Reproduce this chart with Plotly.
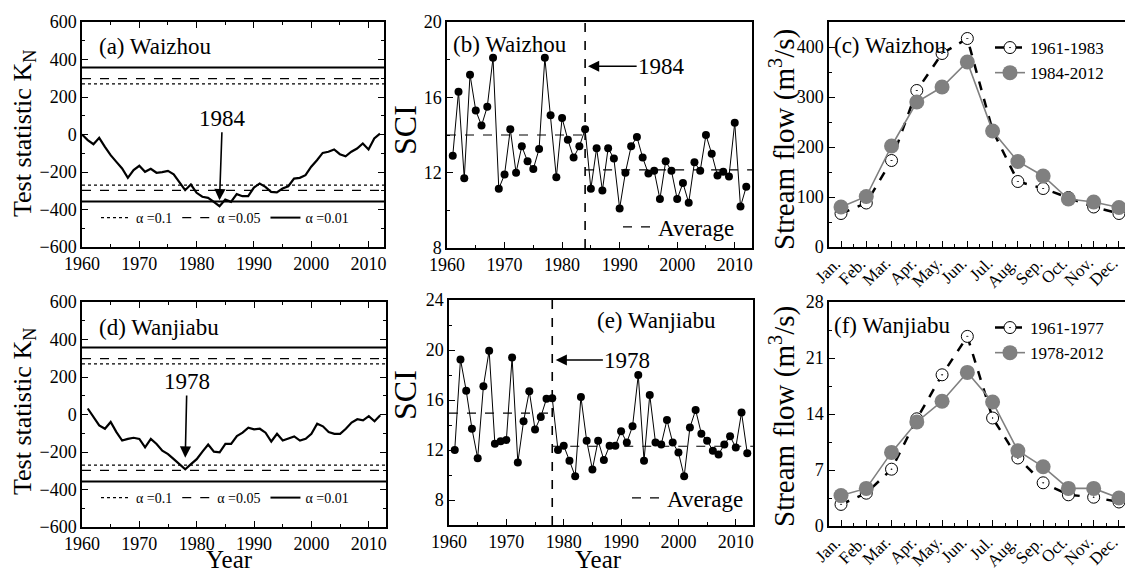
import plotly.graph_objects as go

# ---------------- data ----------------
years_a = list(range(1960, 2013))
kn_waizhou = [0, -30, -52, -18, -66, -110, -146, -181, -231, -190,
              -167, -199, -183, -204, -201, -194, -212, -252, -297, -267,
              -311, -332, -338, -359, -382, -347, -359, -318, -329, -329,
              -283, -261, -279, -306, -309, -288, -276, -235, -231, -217,
              -172, -137, -98, -92, -80, -105, -116, -92, -75, -48,
              -80, -21, 5]

years_d = list(range(1961, 2013))
kn_wanjiabu = [32, -13, -58, -76, -40, -94, -139, -130, -124, -130,
               -175, -130, -157, -193, -211, -238, -265, -292, -265, -238,
               -198, -160, -198, -202, -157, -157, -115, -97, -70, -79,
               -76, -97, -144, -103, -139, -130, -117, -139, -130, -103,
               -49, -63, -94, -103, -103, -76, -43, -25, -31, -9,
               -36, -4]

thresh_names = ["α =0.1", "α =0.05", "α =0.01"]
thresh_vals = [270, 298, 357]
thresh_dash = ["dot", "dash", "solid"]

years_sci = list(range(1961, 2013))
sci_waizhou = [12.9, 16.3, 11.7, 17.2, 15.3, 14.5, 15.5, 18.1, 11.15, 11.9,
               14.3, 12.0, 13.4, 12.6, 12.2, 13.25, 18.1, 15.05, 11.75, 14.9,
               13.75, 12.8, 13.4, 14.3, 11.15, 13.3, 11.05, 13.3, 12.75, 10.1,
               12.0, 13.4, 13.9, 12.8, 11.95, 12.1, 10.6, 12.6, 12.1, 10.6,
               11.45, 10.4, 12.55, 12.1, 14.0, 13.0, 11.85, 12.05, 11.8, 14.65,
               10.2, 11.25]
sci_wanjiabu = [12.0, 19.25, 16.75, 13.7, 11.35, 17.1, 19.95, 12.5, 12.7, 12.8,
                19.4, 11.0, 14.3, 16.7, 13.65, 14.65, 16.1, 16.15, 12.0, 12.35,
                11.15, 9.9, 16.25, 12.75, 10.45, 12.75, 11.2, 12.35, 12.35, 13.5,
                12.6, 13.9, 18.0, 11.15, 16.4, 12.6, 12.45, 14.4, 12.6, 11.8,
                9.9, 13.8, 15.2, 13.3, 12.75, 11.95, 11.65, 12.45, 13.1, 12.2,
                15.0, 11.75]
change_waizhou = 1984
change_wanjiabu = 1978
avg_waizhou = [14.0, 12.15]
avg_wanjiabu = [14.95, 12.3]

months = ["Jan.", "Feb.", "Mar.", "Apr.", "May.", "Jun.",
          "Jul.", "Aug.", "Sep.", "Oct.", "Nov.", "Dec."]
month_idx = list(range(1, 13))
flow_w_pre = [67, 88, 173, 313, 387, 417, 233, 131, 117, 99, 80, 67]
flow_w_post = [80, 101, 202, 290, 320, 370, 232, 171, 142, 96, 90, 79]
flow_j_pre = [2.7, 4.1, 7.1, 13.4, 18.9, 23.7, 13.5, 8.5, 5.4, 3.9, 3.6, 3.0]
flow_j_post = [3.8, 4.7, 9.2, 13.0, 15.6, 19.2, 15.5, 9.4, 7.4, 4.7, 4.7, 3.5]

# ---------------- layout helpers ----------------
W, H = 1125, 574
FONT = "Liberation Serif"


def dx(x0, x1):
    return [x0 / W, min(x1 / W, 1.0)]


def dy(top, bottom):
    return [1 - bottom / H, 1 - top / H]


fig = go.Figure()

# ---- (a) and (d): Pettitt test ----
for (xa, ya, leg, yrs, vals, xr) in [
        ("x", "y", "legend", years_a, kn_waizhou, [1960, 2012.7]),
        ("x4", "y4", "legend4", years_d, kn_wanjiabu, [1960, 2013])]:
    for name, v, d in zip(thresh_names, thresh_vals, thresh_dash):
        fig.add_trace(go.Scatter(
            x=[xr[0], xr[1], None, xr[0], xr[1]], y=[v, v, None, -v, -v],
            mode="lines", name=name, legend=leg,
            line=dict(color="black", width=2 if d == "solid" else 1.2, dash=d),
            xaxis=xa, yaxis=ya, hoverinfo="skip"))
    fig.add_trace(go.Scatter(x=yrs, y=vals, mode="lines", showlegend=False,
                             line=dict(color="black", width=2.2),
                             xaxis=xa, yaxis=ya))

# ---- (b) and (e): SCI ----
for (xa, ya, leg, vals, cy, avg, yr) in [
        ("x2", "y2", "legend2", sci_waizhou, change_waizhou, avg_waizhou, [8, 20]),
        ("x5", "y5", "legend5", sci_wanjiabu, change_wanjiabu, avg_wanjiabu, [6, 24])]:
    fig.add_trace(go.Scatter(x=[cy, cy], y=yr, mode="lines", showlegend=False,
                             line=dict(color="black", width=1.6, dash="dash"),
                             xaxis=xa, yaxis=ya, hoverinfo="skip"))
    fig.add_trace(go.Scatter(x=[1960, cy, None, cy, 2013],
                             y=[avg[0], avg[0], None, avg[1], avg[1]],
                             mode="lines", name="Average", legend=leg,
                             line=dict(color="black", width=1.2, dash="dash"),
                             xaxis=xa, yaxis=ya))
    fig.add_trace(go.Scatter(x=years_sci, y=vals, mode="lines+markers",
                             showlegend=False,
                             line=dict(color="black", width=1),
                             marker=dict(color="black", size=8),
                             xaxis=xa, yaxis=ya))

# ---- (c) and (f): stream flow ----
for (xa, ya, leg, pre, post, n1, n2) in [
        ("x3", "y3", "legend3", flow_w_pre, flow_w_post, "1961-1983", "1984-2012"),
        ("x6", "y6", "legend6", flow_j_pre, flow_j_post, "1961-1977", "1978-2012")]:
    fig.add_trace(go.Scatter(x=month_idx, y=pre, mode="lines+markers", name=n1,
                             legend=leg,
                             line=dict(color="black", width=2.5, dash="dash"),
                             marker=dict(symbol="circle-dot", size=12, color="white",
                                         line=dict(color="black", width=1)),
                             xaxis=xa, yaxis=ya))
    fig.add_trace(go.Scatter(x=month_idx, y=post, mode="lines+markers", name=n2,
                             legend=leg,
                             line=dict(color="#808080", width=1.6),
                             marker=dict(symbol="circle", size=15, color="#808080"),
                             xaxis=xa, yaxis=ya))

# ---------------- axes ----------------
tickfont = dict(family=FONT, size=18, color="black")
base = dict(showgrid=False, zeroline=False, showline=True, linecolor="black",
            linewidth=1.5, ticks="inside", ticklen=6, tickcolor="black",
            tickfont=tickfont, automargin=False)
minor_c = dict(ticks="inside", ticklen=3, tickcolor="black")

lay = {}
# (a)
lay["xaxis"] = dict(base, domain=dx(82, 384), range=[1960, 2012.7], dtick=10, tick0=1960,
                    mirror="ticks", anchor="y", minor=dict(minor_c, dtick=5, tick0=1960))
lay["yaxis"] = dict(base, domain=dy(22, 247), range=[-600, 600], dtick=200, mirror="ticks",
                    anchor="x", minor=dict(minor_c, dtick=100))
# (b)
lay["xaxis2"] = dict(base, domain=dx(447, 752), range=[1960, 2013], dtick=10, tick0=1960,
                     mirror=True, anchor="y2", minor=dict(minor_c, dtick=5, tick0=1960))
lay["yaxis2"] = dict(base, domain=dy(22, 248), range=[8, 20], dtick=4, mirror=True,
                     anchor="x2", minor=dict(minor_c, dtick=2))
# (c)
lay["xaxis3"] = dict(base, domain=dx(829, 1125), range=[0.525, 12.24],
                     tickvals=month_idx, showticklabels=False,
                     mirror=True, anchor="y3", minor=dict(minor_c, dtick=0.5, tick0=0.5))
lay["yaxis3"] = dict(base, domain=dy(22, 247), range=[0, 450], dtick=100, mirror=True,
                     anchor="x3", minor=dict(minor_c, dtick=50))
# (d)
lay["xaxis4"] = dict(base, domain=dx(82, 386), range=[1960, 2013], dtick=10, tick0=1960,
                     mirror="ticks", anchor="y4", minor=dict(minor_c, dtick=5, tick0=1960))
lay["yaxis4"] = dict(base, domain=dy(302, 527), range=[-600, 600], dtick=200, mirror="ticks",
                     anchor="x4", minor=dict(minor_c, dtick=100))
# (e)
lay["xaxis5"] = dict(base, domain=dx(449, 753), range=[1960, 2013], dtick=10, tick0=1960,
                     mirror=True, anchor="y5", minor=dict(minor_c, dtick=5, tick0=1960))
lay["yaxis5"] = dict(base, domain=dy(300, 525), range=[6, 24], dtick=4, tick0=0, mirror=True,
                     anchor="x5", minor=dict(minor_c, dtick=2, tick0=0))
# (f)
lay["xaxis6"] = dict(base, domain=dx(829, 1125), range=[0.525, 12.24],
                     tickvals=month_idx, showticklabels=False,
                     mirror=True, anchor="y6", minor=dict(minor_c, dtick=0.5, tick0=0.5))
lay["yaxis6"] = dict(base, domain=dy(302, 526), range=[0, 28], dtick=7, mirror=True,
                     anchor="x6", minor=dict(minor_c, dtick=3.5))

# ---------------- legends ----------------
leg_common = dict(bgcolor="rgba(0,0,0,0)", borderwidth=0, xanchor="left")
lay["legend"] = dict(leg_common, orientation="h", x=96 / W, y=1 - 218 / H, yanchor="middle",
                     font=dict(family=FONT, size=14, color="black"), itemwidth=30)
lay["legend4"] = dict(leg_common, orientation="h", x=96 / W, y=1 - 498 / H, yanchor="middle",
                      font=dict(family=FONT, size=14, color="black"), itemwidth=30)
lay["legend2"] = dict(leg_common, x=618 / W, y=1 - 227 / H, yanchor="middle",
                      font=dict(family=FONT, size=23, color="black"))
lay["legend5"] = dict(leg_common, x=627 / W, y=1 - 498 / H, yanchor="middle",
                      font=dict(family=FONT, size=23, color="black"))
lay["legend3"] = dict(leg_common, x=990 / W, y=1 - 30 / H, yanchor="top",
                      font=dict(family=FONT, size=17, color="black"), tracegroupgap=0)
lay["legend6"] = dict(leg_common, x=990 / W, y=1 - 310 / H, yanchor="top",
                      font=dict(family=FONT, size=17, color="black"), tracegroupgap=0)

# ---------------- annotations ----------------
lab_font = dict(family=FONT, size=23, color="black")
ann = []
for ref, text, x, y in [("", "(a) Waizhou", 0.05, 0.955),
                        ("2", "(b) Waizhou", 0.013, 0.965),
                        ("3", "(c) Waizhou", 0.01, 0.96),
                        ("4", "(d) Wanjiabu", 0.05, 0.95),
                        ("5", "(e) Wanjiabu", 0.48, 0.975),
                        ("6", "(f) Wanjiabu", 0.01, 0.96)]:
    ann.append(dict(xref=f"x{ref} domain", yref=f"y{ref} domain", x=x, y=y,
                    xanchor="left", yanchor="top", text=text, showarrow=False,
                    font=lab_font))

# axis titles
title_specs = [
    ("Test statistic K<sub>N</sub>", 24, 134, -90, 26),
    ("Test statistic K<sub>N</sub>", 24, 412, -90, 26),
    ("SCI", 405, 130, -90, 32),
    ("SCI", 405, 395, -90, 32),
    ("Stream flow (m<sup>3</sup>/s)", 782, 140, -90, 29),
    ("Stream flow (m<sup>3</sup>/s)", 782, 417, -90, 29),
    ("Year", 229, 559, 0, 25),
    ("Year", 598, 559, 0, 25),
]
for text, px, py, ang, sz in title_specs:
    ann.append(dict(xref="paper", yref="paper", x=px / W, y=1 - py / H,
                    xanchor="center", yanchor="middle", text=text, textangle=ang,
                    showarrow=False, font=dict(family=FONT, size=sz, color="black")))

# month tick labels (rotated)
for ref in ["3", "6"]:
    for m, lab in zip(month_idx, months):
        ann.append(dict(xref=f"x{ref}", yref=f"y{ref} domain", x=m, y=0,
                        xanchor="right", yanchor="top", xshift=6, yshift=-4,
                        text=lab, textangle=-45, showarrow=False,
                        font=dict(family=FONT, size=17, color="black")))

arrow_common = dict(showarrow=True, arrowhead=2, arrowsize=1.4, arrowwidth=1.6,
                    arrowcolor="black", font=dict(family=FONT, size=23, color="black"))
ann.append(dict(arrow_common, xref="x", yref="y", axref="x", ayref="y",
                x=change_waizhou, y=-350, ax=change_waizhou + 0.5, ay=87,
                text=str(change_waizhou)))
ann.append(dict(arrow_common, xref="x4", yref="y4", axref="x4", ayref="y4",
                x=change_wanjiabu, y=-230, ax=change_wanjiabu + 0.3, ay=176,
                text=str(change_wanjiabu)))
ann.append(dict(arrow_common, xref="x2", yref="y2", axref="x2", ayref="y2",
                x=change_waizhou + 0.5, y=17.65, ax=change_waizhou + 13.3, ay=17.65,
                text=str(change_waizhou)))
ann.append(dict(arrow_common, xref="x5", yref="y5", axref="x5", ayref="y5",
                x=change_wanjiabu + 0.6, y=19.2, ax=change_wanjiabu + 13.1, ay=19.2,
                text=str(change_wanjiabu)))

fig.update_layout(
    width=W, height=H, margin=dict(l=0, r=0, t=0, b=0, autoexpand=False),
    paper_bgcolor="white", plot_bgcolor="white",
    font=dict(family=FONT, color="black"),
    annotations=ann, **lay)

fig.write_html("out.html", config={"displayModeBar": False},
               post_script="document.body.style.margin='0px';document.body.style.padding='0px';")
